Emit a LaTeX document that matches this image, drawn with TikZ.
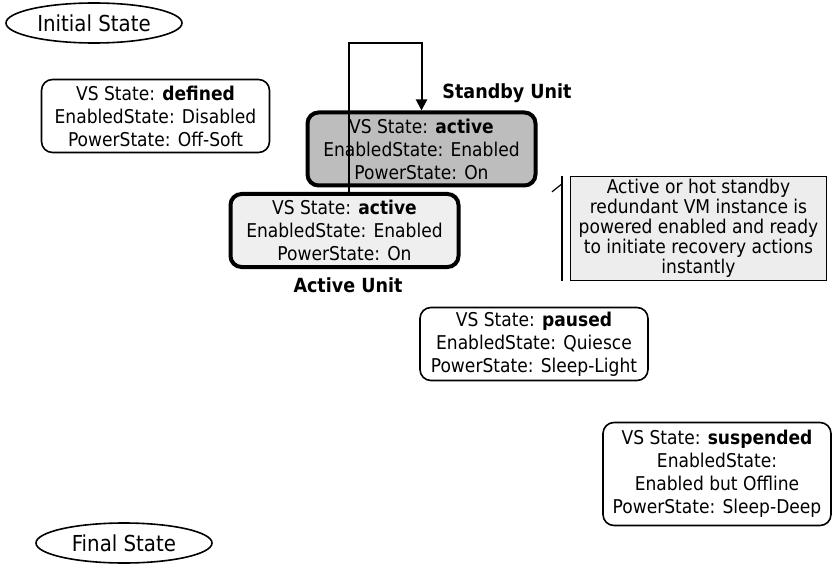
\documentclass[tikz,border=0pt]{standalone}
\usepackage{fontspec}
\setmainfont{DejaVu Sans Condensed}
\usetikzlibrary{arrows.meta,positioning,shapes}
\definecolor{standbygray}{HTML}{BDBDBD}
\definecolor{activegray}{HTML}{EFEFEF}
\definecolor{notegray}{HTML}{EDEDED}

\begin{document}
\begin{tikzpicture}[x=1pt,y=1pt,font=\fontsize{19}{23}\selectfont,
  state/.style={draw,line width=1.6pt,rounded corners=11pt,align=center,inner sep=0pt,minimum width=228pt,minimum height=73pt},
  unit/.style={state,line width=4pt,minimum width=228pt,minimum height=73pt},
  pseudo/.style={ellipse,draw,line width=1.6pt,inner sep=0pt,minimum width=176pt,minimum height=40pt,font=\fontsize{22}{26}\selectfont},
  note/.style={draw,line width=1.2pt,fill=notegray,align=center,inner sep=0pt,minimum width=256pt,minimum height=104pt,font=\fontsize{19}{20}\selectfont},
  lbl/.style={font=\fontsize{19.5}{23}\selectfont\bfseries}]
			\useasboundingbox (0,0) rectangle (832,-564);
			\node[pseudo] (init) at (94,-23) {Initial State};
			\node[state] (defined) at (155.5,-116) {VS State: \textbf{defined}\\EnabledState: Disabled\\PowerState: Off-Soft};
			\node[unit,fill=standbygray] (standby) at (421.5,-149) {VS State: \textbf{active}\\EnabledState: Enabled\\PowerState: On};
			\node[unit,fill=activegray] (active) at (344.5,-230.5) {VS State: \textbf{active}\\EnabledState: Enabled\\PowerState: On};
			\node[lbl] (standbylbl) at (507,-93) {Standby Unit};
			\node[lbl] (activelbl) at (348,-285) {Active Unit};
			\node[note] (redundancy) at (698.5,-228.5) {Active or hot standby\\redundant VM instance is\\powered enabled and ready\\to initiate recovery actions\\instantly};
			\node[state] (paused) at (534,-344) {VS State: \textbf{paused}\\EnabledState: Quiesce\\PowerState: Sleep-Light};
			\node[state,minimum height=103pt] (suspended) at (717,-474) {VS State: \textbf{suspended}\\EnabledState:\\Enabled but Offline\\PowerState: Sleep-Deep};
			\node[pseudo] (final) at (124,-543) {Final State};
			% loop from the active unit to the standby unit
			\draw[line width=2pt,-{Triangle[length=11pt,width=11pt]}] ([xshift=4.5pt]active.north) -- ++(0,149) -| (standby.north);
			% note bracket
			\coordinate (bracktop) at ([xshift=-8pt]redundancy.north west);
			\coordinate (brackbot) at ([xshift=-8pt]redundancy.south west);
			\draw[line width=1.4pt] (bracktop) -- (brackbot);
			\draw[line width=1.2pt] ([yshift=-8pt]bracktop) -- ++(-10,-8);
		\end{tikzpicture}
\end{document}
